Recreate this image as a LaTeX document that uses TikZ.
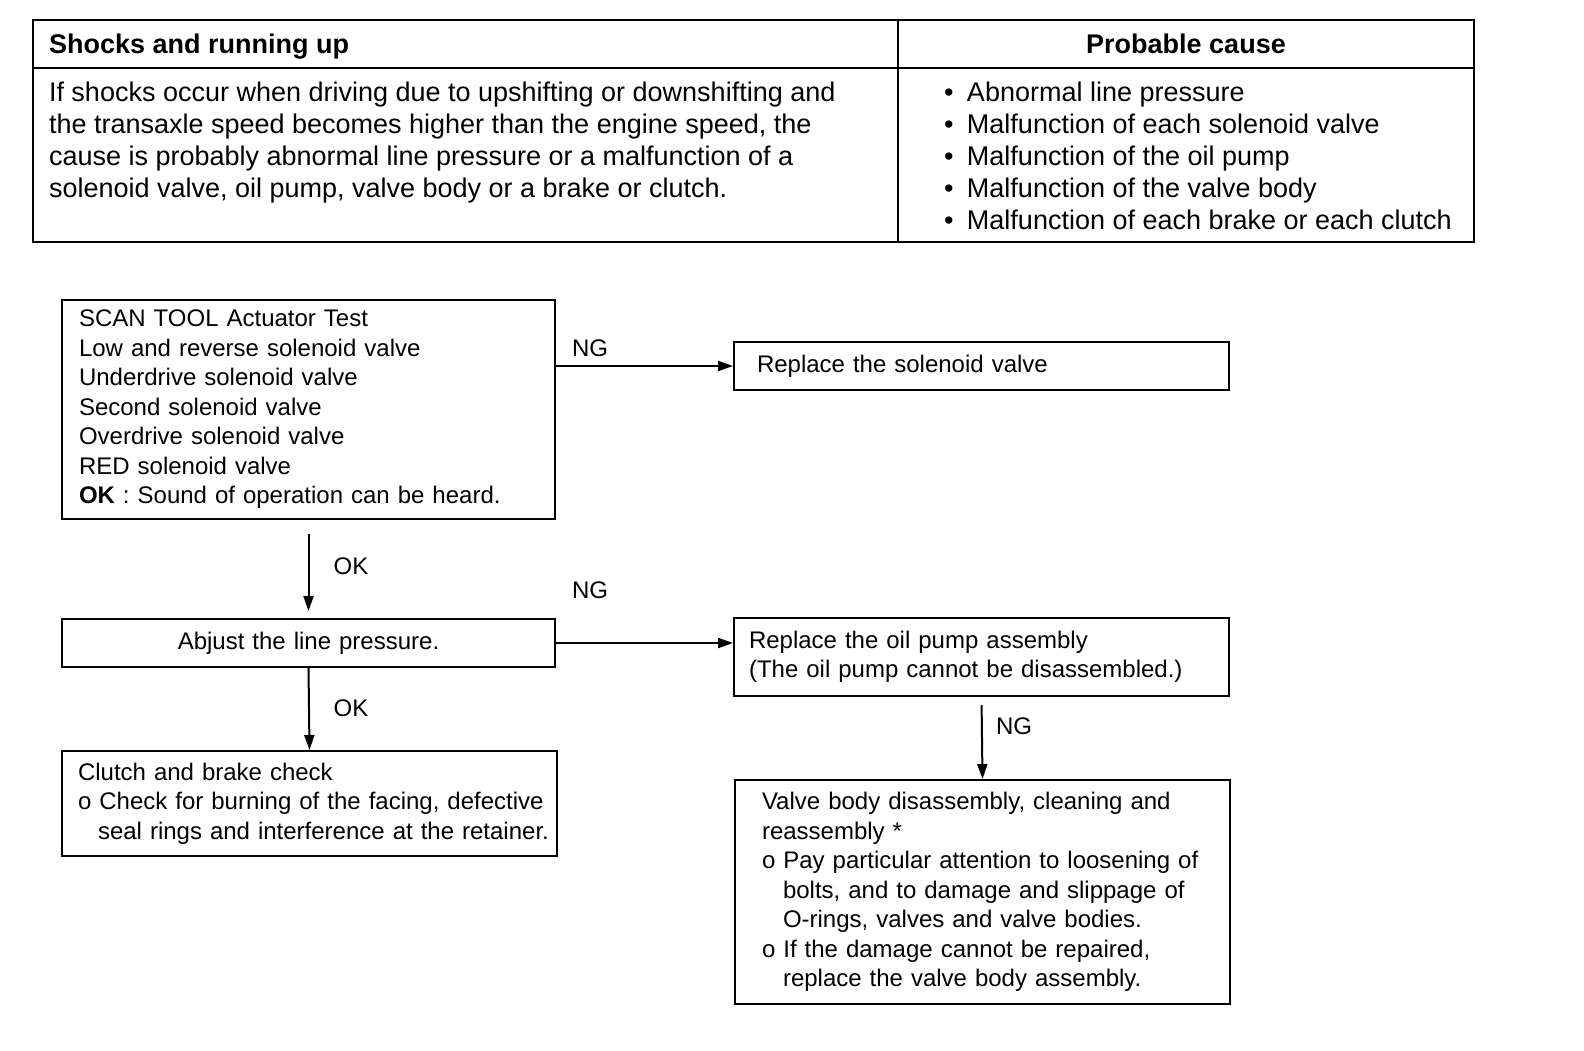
\documentclass[tikz,border=0pt]{standalone}
\usepackage{fontspec}
\setmainfont{Liberation Sans}
\usetikzlibrary{arrows.meta,positioning}

\begin{document}
\begin{tikzpicture}[x=0.5pt,y=-0.5pt,line width=1pt,
  >={Triangle[length=7.5pt,width=5pt]},
  box/.style={draw,anchor=north west,inner ysep=0pt,align=left,
    font=\fontsize{12}{14.75}\selectfont},
  lbl/.style={font=\fontsize{12}{14}\selectfont},
  cell/.style={inner sep=0pt,align=left,font=\fontsize{13.5}{16}\selectfont}]
\useasboundingbox (0,0) rectangle (1584,1050);

% table
\draw (33,20) rectangle (1474,242);
\draw (33,68) -- (1474,68);
\draw (898,20) -- (898,242);
\node[cell,anchor=base west] (h1) at (48,53) {\textbf{Shocks and running up}};
\node[cell,anchor=base] (h2) at (1186,53) {\textbf{Probable cause}};
\node[cell,anchor=west] (t1) at (48,143) {If shocks occur when driving due to upshifting or downshifting and\\
the transaxle speed becomes higher than the engine speed, the\\
cause is probably abnormal line pressure or a malfunction of a\\
solenoid valve, oil pump, valve body or a brake or clutch.};
\node[cell,anchor=west] (t2) at (943,156) {\makebox[11.5pt][l]{\textbullet}Abnormal line pressure\\
\makebox[11.5pt][l]{\textbullet}Malfunction of each solenoid valve\\
\makebox[11.5pt][l]{\textbullet}Malfunction of the oil pump\\
\makebox[11.5pt][l]{\textbullet}Malfunction of the valve body\\
\makebox[11.5pt][l]{\textbullet}Malfunction of each brake or each clutch};

% flow
\node[box,text width=229.5pt,inner xsep=8.5pt,minimum height=109.5pt] (a) at (61,299) {SCAN TOOL Actuator Test\\
Low and reverse solenoid valve\\
Underdrive solenoid valve\\
Second solenoid valve\\
Overdrive solenoid valve\\
RED solenoid valve\\
\textbf{OK} : Sound of operation can be heard.};
\node[box,text width=224.5pt,inner xsep=11.5pt,minimum height=24pt] (b) at (733,341) {Replace the solenoid valve};
\node[box,text width=229.5pt,inner xsep=8.5pt,minimum height=24pt,align=center] (c) at (61,618) {Abjust the line pressure.};
\node[box,text width=232.5pt,inner xsep=7.5pt,minimum height=39pt] (d) at (733,617) {Replace the oil pump assembly\\
(The oil pump cannot be disassembled.)};
\node[box,text width=231.5pt,inner xsep=8pt,minimum height=52.5pt] (e) at (61,750) {Clutch and brake check\\
\mbox{o Check for burning of the facing, defective}\\
\mbox{\hspace*{10pt}seal rings and interference at the retainer.}};
\node[box,text width=220.5pt,inner xsep=13.5pt,minimum height=112pt] (f) at (734,779) {Valve body disassembly, cleaning and\\
reassembly *\\
\mbox{o Pay particular attention to loosening of}\\
\hspace*{10.5pt}bolts, and to damage and slippage of\\
\hspace*{10.5pt}O-rings, valves and valve bodies.\\
o If the damage cannot be repaired,\\
\hspace*{10.5pt}replace the valve body assembly.};

\node[lbl] (n1) at (590,348) {NG};
\node[lbl] (k1) at (351,566) {OK};
\node[lbl] (n2) at (590,590) {NG};
\node[lbl] (k2) at (351,708) {OK};
\node[lbl] (n3) at (1014,726) {NG};

\path
(a.east |- b.west) edge[->] (b.west)
(a.south) edge[->,shorten <=7pt,shorten >=3.5pt] (c.north)
(c.east) edge[->] (c.east -| d.west)
(c.south) edge[->] (e.north)
(d.south) edge[->,shorten <=4pt] (f.north);
\end{tikzpicture}
\end{document}
